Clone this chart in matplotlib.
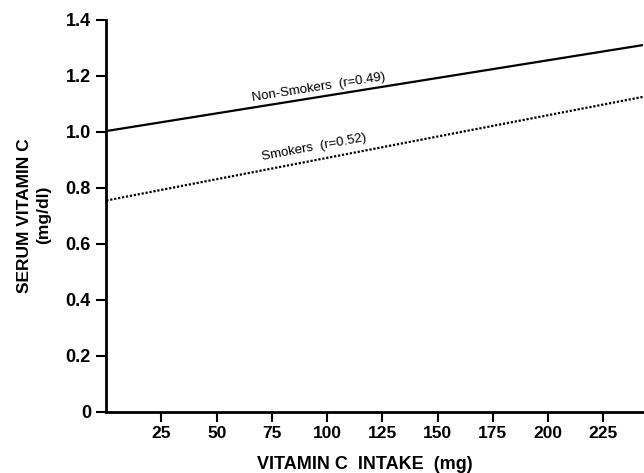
import matplotlib
matplotlib.use("Agg")
import matplotlib.pyplot as plt

# Regression lines (endpoints of the fitted lines)
intake = [0, 243]
non_smokers = [1.003, 1.31]
smokers = [0.755, 1.125]

x_ticks = [25, 50, 75, 100, 125, 150, 175, 200, 225]
x_tick_labels = ["25", "50", "75", "100", "125", "150", "175", "200", "225"]
y_ticks = [0, 0.2, 0.4, 0.6, 0.8, 1.0, 1.2, 1.4]
y_tick_labels = ["0", "0.2", "0.4", "0.6", "0.8", "1.0", "1.2", "1.4"]

plt.rcParams["font.family"] = ["Liberation Sans", "DejaVu Sans"]

fig = plt.figure(figsize=(6.44, 4.73), dpi=100)
ax = fig.add_axes([0.165, 0.129, 0.835, 0.829])

ax.plot(intake, non_smokers, color="black", linewidth=1.6, solid_capstyle="butt")
ax.plot(intake, smokers, color="black", linewidth=1.6, linestyle=(0, (1, 0.8)))

ax.set_xlim(0, 243.5)
ax.set_ylim(0, 1.4)

ax.set_xticks(x_ticks)
ax.set_xticklabels(x_tick_labels, fontsize=12.5, fontweight="bold")
ax.set_yticks(y_ticks)
ax.set_yticklabels(y_tick_labels, fontsize=13, fontweight="bold")
ax.tick_params(axis="both", direction="out", length=7, width=1.5, color="black")
ax.tick_params(axis="y", pad=4)
ax.tick_params(axis="x", pad=3)

for side in ["top", "right"]:
    ax.spines[side].set_visible(False)
for side in ["left", "bottom"]:
    ax.spines[side].set_linewidth(2)

ax.set_xlabel("VITAMIN C  INTAKE  (mg)", fontsize=13, fontweight="bold")
ax.xaxis.set_label_coords(0.48, -0.112)
fig.text(0.038, 0.545, "SERUM VITAMIN C", rotation=90, ha="center", va="center",
         fontsize=12.5, fontweight="bold")
fig.text(0.068, 0.545, "(mg/dl)", rotation=90, ha="center", va="center",
         fontsize=12.5, fontweight="bold")

ax.text(96, 1.16, "Non-Smokers  (r=0.49)", rotation=9, ha="center", va="center",
        fontsize=9.5)
ax.text(94, 0.946, "Smokers  (r=0.52)", rotation=10.5, ha="center", va="center",
        fontsize=9.5)

fig.savefig("out.png", dpi=100)
